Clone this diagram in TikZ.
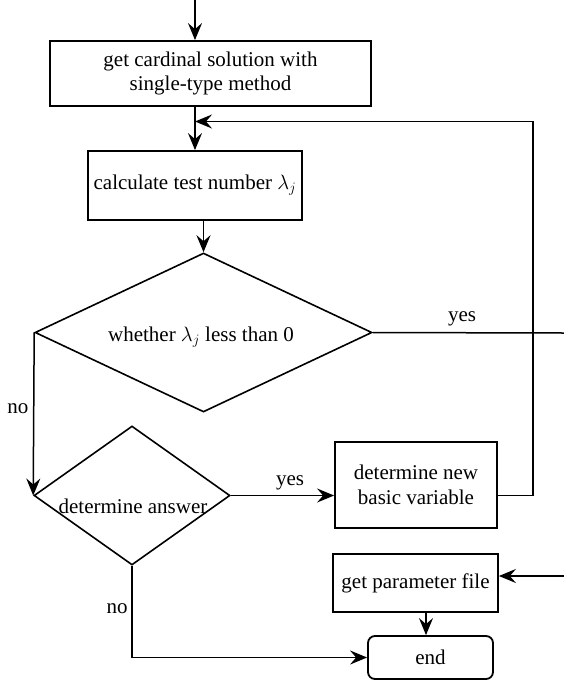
\documentclass[tikz,border=0pt]{standalone}
\usepackage{fontspec}
\setmainfont{Liberation Serif}
\usetikzlibrary{shapes.geometric,arrows.meta,calc}
\newcommand\myfs{\fontsize{21}{24.5}\selectfont}
\tikzset{
  box/.style={draw, line width=1.8pt, inner sep=0pt, align=center, font=\myfs},
  dia/.style={draw, diamond, line width=1.6pt, inner sep=0pt},
  arr/.style={line width=1.5pt, -{Stealth[length=17pt, width=14pt, inset=6pt]}},
  ln/.style={line width=1.5pt},
  lbl/.style={font=\myfs, inner sep=0pt}
}
\begin{document}
\begin{tikzpicture}[x=1pt,y=1pt]
\useasboundingbox (0,0) rectangle (564,-681);
% boxes
\node[box, minimum width=321pt, minimum height=65pt] (b1) at (210.5,-73.5) {get cardinal solution with\\single-type method};
\node[box, minimum width=214pt, minimum height=69pt] (b2) at (195,-185.5) {calculate test number $\lambda_j$};
\node[box, minimum width=162pt, minimum height=86pt] (b3) at (416,-485) {determine new\\basic variable};
\node[box, minimum width=165pt, minimum height=58pt] (b4) at (415.5,-583) {get parameter file};
\node[box, rounded corners=7pt, minimum width=125pt, minimum height=43pt] (endn) at (430.5,-657.5) {end};
% diamonds
\node[dia, minimum width=337pt, minimum height=159pt] (d1) at (203.5,-332.5) {};
\node[dia, minimum width=196pt, minimum height=139pt] (d2) at (132,-495.5) {};
\node[lbl] (t1) at (201,-337) {whether $\lambda_j$ less than 0};
\node[lbl] (t2) at (133,-506) {determine answer};
% labels
\node[lbl] (yes1) at (462,-319) {yes};
\node[lbl] (no1) at (18,-409) {no};
\node[lbl] (yes2) at (290,-483) {yes};
\node[lbl] (no2) at (117,-609) {no};
% coordinates
\coordinate (topin) at (195,0);
\coordinate (fb) at (533,-121.5);
\coordinate (yesend) at (564,-333);
\coordinate (pin) at (564,-576);
\coordinate (ein) at (426,-636);
% connectors
\draw[arr] (topin) -- (topin |- b1.north);
\draw[arr] (b2.north |- b1.south) -- (b2.north);
\draw[arr] (b3.east |- d2.east) -| (fb) -- (b2.north |- fb);
\draw[arr] (d1.north |- b2.south) -- (d1.north);
\draw[ln] (d1.east) -- (yesend);
\draw[arr] (d1.west) -- (d2.west);
\draw[arr] (d2.east) -- (b3.west |- d2.east);
\draw[arr] (d2.south) |- (endn.west);
\draw[arr] (pin) -- (b4.east |- pin);
\draw[arr] (ein |- b4.south) -- (ein |- endn.north);
\end{tikzpicture}
\end{document}
